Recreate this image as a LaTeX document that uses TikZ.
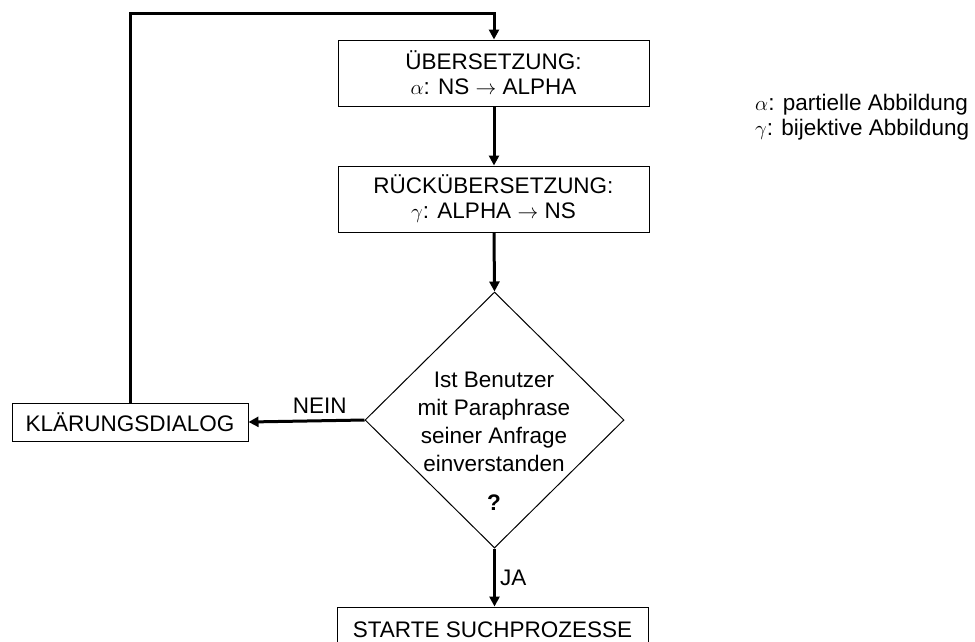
\documentclass[tikz,border=0pt]{standalone}
\usepackage{fontspec}
\setmainfont{Liberation Sans}
\usetikzlibrary{arrows.meta,shapes.geometric}
\begin{document}
\begin{tikzpicture}[x=1pt,y=-1pt,
  box/.style={draw=black,line width=1pt,minimum width=311pt,inner sep=0pt,align=center,
    font=\fontsize{22.5}{25}\selectfont},
  lbl/.style={inner sep=0pt,font=\fontsize{22.5}{25}\selectfont},
  conn/.style={line width=3pt,-{Triangle[length=10pt,width=10pt]}},
  plain/.style={line width=3pt}]
\useasboundingbox (0,0) rectangle (975,641);
\node[box,minimum height=66pt] (ueb) at (493.5,73) {ÜBERSETZUNG:\\$\alpha$: NS $\rightarrow$ ALPHA};
\node[box,minimum height=66pt] (rueck) at (493.5,199) {RÜCKÜBERSETZUNG:\\$\gamma$: ALPHA $\rightarrow$ NS};
\node[draw=black,line width=1pt,shape=diamond,minimum width=259pt,minimum height=256pt,inner sep=0pt] (dec) at (494.5,420) {};
\node[lbl,align=center,font=\fontsize{22.5}{28}\selectfont] (dectext) at (494,421.5) {Ist Benutzer\\mit Paraphrase\\seiner Anfrage\\einverstanden};
\node[lbl,font=\fontsize{22.5}{25}\selectfont\bfseries] (q) at (494,503) {?};
\node[box,minimum width=236pt,minimum height=38pt] (kd) at (130,422) {KLÄRUNGSDIALOG};
\node[box,minimum height=46pt] (start) at (492.5,630) {STARTE SUCHPROZESSE};
\coordinate (tl) at (130,13);
\coordinate (tr) at (494,13);
\draw[conn] (kd.north) -- (tl) -- (tr) -- (ueb.north -| tr);
\draw[conn] (ueb.south -| tr) -- (rueck.north -| tr);
\draw[conn] (rueck.south -| tr) -- (dec.north);
\draw[conn] (dec.west) -- node[lbl,above=6pt,pos=0.385] (nein) {NEIN} (kd.east);
\draw[conn] (dec.south) -- node[lbl,right=4pt] (ja) {JA} (start.north -| dec.south);
\node[lbl,anchor=west,align=left] (legend) at (755,117) {$\alpha$: partielle Abbildung\\$\gamma$: bijektive Abbildung};
\end{tikzpicture}
\end{document}
